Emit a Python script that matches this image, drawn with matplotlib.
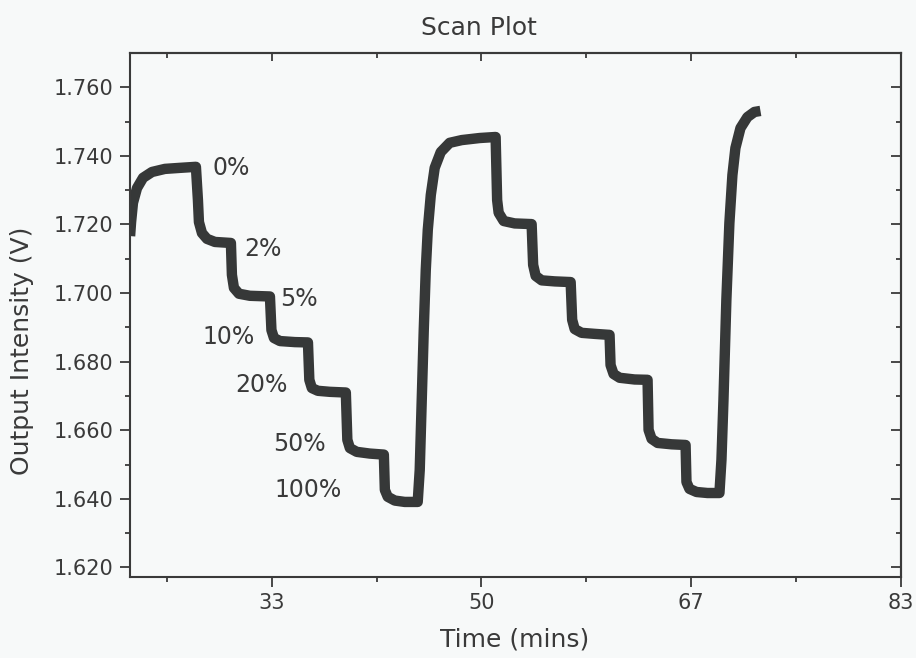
import matplotlib
matplotlib.use('Agg')
import matplotlib.pyplot as plt
from matplotlib.ticker import MultipleLocator, FormatStrFormatter

# scan trace (time in mins, output in V)
time_c1 = [22.09, 22.17, 22.32, 22.64, 23.12, 23.83, 24.86, 26.05, 27.32,
           27.48, 27.56, 27.80, 28.20, 28.83, 30.10,
           30.18, 30.34, 30.74, 31.61, 33.20,
           33.32, 33.52, 34.00, 35.18, 36.22,
           36.33, 36.53, 37.01, 37.96, 39.23,
           39.35, 39.55, 40.10, 41.13, 42.25,
           42.33, 42.56, 43.12, 43.91, 44.94]
volt_c1 = [1.7166, 1.7207, 1.7263, 1.7306, 1.7336, 1.7353, 1.7362, 1.7365, 1.7368,
           1.7271, 1.7207, 1.7175, 1.7158, 1.7149, 1.7146,
           1.7053, 1.7015, 1.6998, 1.6992, 1.6990,
           1.6892, 1.6869, 1.6860, 1.6857, 1.6856,
           1.6747, 1.6723, 1.6715, 1.6712, 1.6710,
           1.6572, 1.6548, 1.6537, 1.6532, 1.6529,
           1.6426, 1.6406, 1.6395, 1.6391, 1.6391]

time_c2 = [45.10, 45.26, 45.42, 45.58, 45.74, 45.98, 46.29, 46.77, 47.48, 48.44, 49.86, 51.13,
           51.25, 51.37, 51.77, 52.64, 53.99,
           54.11, 54.31, 54.79, 55.82, 57.09,
           57.21, 57.41, 57.96, 59.00, 60.18,
           60.26, 60.50, 60.98, 62.17, 63.20,
           63.28, 63.52, 64.00, 65.11, 66.22,
           66.29, 66.53, 67.09, 67.96, 68.91]
volt_c2 = [1.6484, 1.6688, 1.6892, 1.7067, 1.7184, 1.7286, 1.7365, 1.7411, 1.7438, 1.7446, 1.7452, 1.7455,
           1.7271, 1.7234, 1.7210, 1.7203, 1.7201,
           1.7082, 1.7050, 1.7037, 1.7034, 1.7032,
           1.6922, 1.6895, 1.6884, 1.6881, 1.6878,
           1.6790, 1.6764, 1.6753, 1.6748, 1.6747,
           1.6601, 1.6575, 1.6563, 1.6559, 1.6557,
           1.6449, 1.6429, 1.6420, 1.6417, 1.6417]

time_c3 = [69.07, 69.23, 69.46, 69.70, 69.94, 70.18, 70.58, 71.13, 71.69, 72.17]
volt_c3 = [1.6514, 1.6689, 1.6980, 1.7204, 1.7344, 1.7423, 1.7481, 1.7513, 1.7528, 1.7531]

# concentration labels and where they sit
conc_labels = ['0%', '2%', '5%', '10%', '20%', '50%', '100%']
conc_x = [30.10, 32.66, 35.50, 29.89, 32.56, 35.58, 36.22]
conc_y = [1.7365, 1.7129, 1.6983, 1.6872, 1.6732, 1.6560, 1.6426]

x_major = [100/3, 50, 200/3, 250/3]
x_ticklabels = ['33', '50', '67', '83']

ink = '#3a3a3a'
bg = '#f7f9f9'

fig = plt.figure(figsize=(9.16, 6.58), dpi=100, facecolor=bg)
ax = fig.add_axes([129.7/916, 1-576.7/658, (901-129.7)/916, (576.7-53.3)/658])
ax.set_facecolor(bg)

t = time_c1 + time_c2 + time_c3
v = volt_c1 + volt_c2 + volt_c3
ax.plot(t, v, color='#363838', lw=7.5, solid_capstyle='butt', solid_joinstyle='round')

for lab, xx, yy in zip(conc_labels, conc_x, conc_y):
    ax.text(xx, yy, lab, fontsize=17, color=ink, ha='center', va='center')

ax.set_xlim(22.06, 250/3)
ax.set_ylim(1.6173, 1.7699)

ax.set_xticks(x_major)
ax.set_xticklabels(x_ticklabels)
ax.xaxis.set_minor_locator(MultipleLocator(25/3))
ax.yaxis.set_major_locator(MultipleLocator(0.02))
ax.yaxis.set_minor_locator(MultipleLocator(0.01))
ax.yaxis.set_major_formatter(FormatStrFormatter('%.3f'))

ax.tick_params(which='both', direction='out', colors=ink, labelsize=15, width=1.3)
ax.tick_params(which='major', length=7.5, pad=4)
ax.tick_params(which='minor', length=3.5)
for s in ax.spines.values():
    s.set_color(ink)
    s.set_linewidth(1.5)

# inward ticks on top and right
top = ax.secondary_xaxis('top')
top.set_xticks(x_major)
top.xaxis.set_minor_locator(MultipleLocator(25/3))
top.tick_params(which='both', direction='in', labeltop=False, colors=ink, width=1.3)
top.tick_params(which='major', length=6)
top.tick_params(which='minor', length=3.5)
top.spines['top'].set_color(ink)
top.spines['top'].set_linewidth(1.5)

right = ax.secondary_yaxis('right')
right.yaxis.set_major_locator(MultipleLocator(0.02))
right.yaxis.set_minor_locator(MultipleLocator(0.01))
right.tick_params(which='both', direction='in', labelright=False, colors=ink, width=1.3)
right.tick_params(which='major', length=7)
right.tick_params(which='minor', length=3.5)
right.spines['right'].set_color(ink)
right.spines['right'].set_linewidth(1.5)

fig.text(479/916, 1-28/658, 'Scan Plot', fontsize=18, color=ink, ha='center', va='center')
fig.text(515/916, 1-640/658, 'Time (mins)', fontsize=18, color=ink, ha='center', va='center')
fig.text(22/916, 1-351/658, 'Output Intensity (V)', fontsize=18, color=ink,
         ha='center', va='center', rotation=90)

fig.savefig('out.png', dpi=100, facecolor=bg)
